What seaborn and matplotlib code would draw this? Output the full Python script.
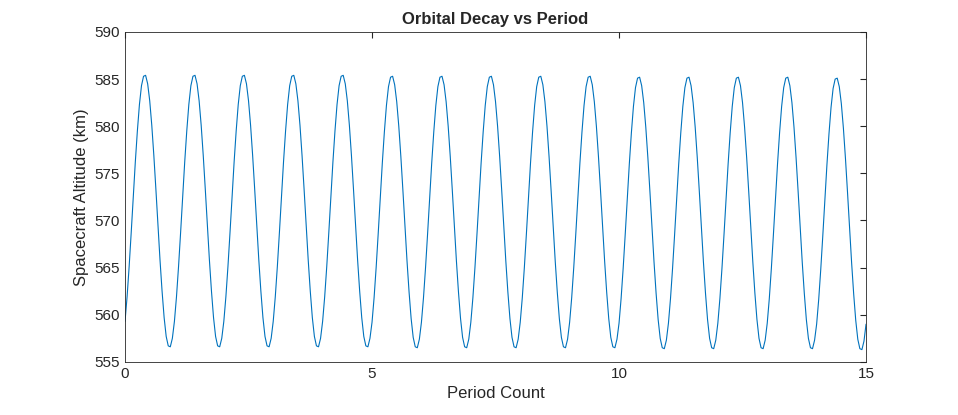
import numpy as np
import pandas as pd
import matplotlib
matplotlib.use("Agg")
import matplotlib.pyplot as plt
import seaborn as sns

# altitude every 1/24 of a period (one row per period)
altitude_rows = [
    [559.3, 561.9, 565.1, 568.7, 572.5, 576.2, 579.5, 582.3, 584.3, 585.3, 585.4, 584.5, 582.7, 580.1, 576.9, 573.3, 569.5, 565.8, 562.5, 559.7, 557.7, 556.7, 556.6, 557.5],
    [559.3, 561.9, 565.1, 568.7, 572.5, 576.2, 579.5, 582.3, 584.3, 585.3, 585.4, 584.5, 582.7, 580.1, 576.9, 573.3, 569.5, 565.8, 562.5, 559.7, 557.7, 556.7, 556.6, 557.5],
    [559.3, 561.9, 565.1, 568.7, 572.5, 576.2, 579.5, 582.3, 584.3, 585.3, 585.4, 584.5, 582.7, 580.1, 576.9, 573.3, 569.5, 565.8, 562.5, 559.7, 557.7, 556.7, 556.6, 557.5],
    [559.3, 561.9, 565.1, 568.7, 572.5, 576.2, 579.5, 582.3, 584.3, 585.3, 585.4, 584.5, 582.7, 580.1, 576.9, 573.3, 569.5, 565.8, 562.5, 559.7, 557.7, 556.7, 556.6, 557.5],
    [559.3, 561.9, 565.1, 568.7, 572.5, 576.2, 579.5, 582.3, 584.3, 585.3, 585.4, 584.5, 582.7, 580.1, 576.9, 573.3, 569.5, 565.8, 562.5, 559.7, 557.7, 556.7, 556.6, 557.5],
    [559.2, 561.8, 565.0, 568.6, 572.4, 576.1, 579.4, 582.2, 584.2, 585.2, 585.3, 584.4, 582.6, 580.0, 576.8, 573.2, 569.4, 565.7, 562.4, 559.6, 557.6, 556.6, 556.5, 557.4],
    [559.2, 561.8, 565.0, 568.6, 572.4, 576.1, 579.4, 582.2, 584.2, 585.2, 585.3, 584.4, 582.6, 580.0, 576.8, 573.2, 569.4, 565.7, 562.4, 559.6, 557.6, 556.6, 556.5, 557.4],
    [559.2, 561.8, 565.0, 568.6, 572.4, 576.1, 579.4, 582.2, 584.2, 585.2, 585.3, 584.4, 582.6, 580.0, 576.8, 573.2, 569.4, 565.7, 562.4, 559.6, 557.6, 556.6, 556.5, 557.4],
    [559.2, 561.8, 565.0, 568.6, 572.4, 576.1, 579.4, 582.2, 584.2, 585.2, 585.3, 584.4, 582.6, 580.0, 576.8, 573.2, 569.4, 565.7, 562.4, 559.6, 557.6, 556.6, 556.5, 557.4],
    [559.2, 561.8, 565.0, 568.6, 572.4, 576.1, 579.4, 582.2, 584.2, 585.2, 585.3, 584.4, 582.6, 580.0, 576.8, 573.2, 569.4, 565.7, 562.4, 559.6, 557.6, 556.6, 556.5, 557.4],
    [559.1, 561.7, 564.9, 568.5, 572.3, 576.0, 579.3, 582.1, 584.1, 585.1, 585.2, 584.3, 582.5, 579.9, 576.7, 573.1, 569.3, 565.6, 562.3, 559.5, 557.5, 556.5, 556.4, 557.3],
    [559.1, 561.7, 564.9, 568.5, 572.3, 576.0, 579.3, 582.1, 584.1, 585.1, 585.2, 584.3, 582.5, 579.9, 576.7, 573.1, 569.3, 565.6, 562.3, 559.5, 557.5, 556.5, 556.4, 557.3],
    [559.1, 561.7, 564.9, 568.5, 572.3, 576.0, 579.3, 582.1, 584.1, 585.1, 585.2, 584.3, 582.5, 579.9, 576.7, 573.1, 569.3, 565.6, 562.3, 559.5, 557.5, 556.5, 556.4, 557.3],
    [559.1, 561.7, 564.9, 568.5, 572.3, 576.0, 579.3, 582.1, 584.1, 585.1, 585.2, 584.3, 582.5, 579.9, 576.7, 573.1, 569.3, 565.6, 562.3, 559.5, 557.5, 556.5, 556.4, 557.3],
    [559.0, 561.6, 564.8, 568.4, 572.2, 575.9, 579.2, 582.0, 584.0, 585.0, 585.1, 584.2, 582.4, 579.8, 576.6, 573.0, 569.2, 565.5, 562.2, 559.4, 557.4, 556.4, 556.3, 557.2],
]
last_altitude = 559.0
samples_per_period = 24

altitude = [v for row in altitude_rows for v in row] + [last_altitude]
period = [i / samples_per_period for i in range(len(altitude))]
df = pd.DataFrame({"period": period, "altitude": altitude})

sns.set_style("white")
plt.rcParams["font.family"] = ["Liberation Sans", "DejaVu Sans"]

fig = plt.figure(figsize=(9.58, 4.15), dpi=100)
ax = fig.add_axes([0.1305, 0.128, 0.7735, 0.795])
sns.lineplot(data=df, x="period", y="altitude", color="#0072BD", linewidth=0.8, ax=ax)

ax.set_xlim(0, 15)
ax.set_ylim(555, 590)
ax.set_xticks([0, 5, 10, 15])
ax.set_yticks(range(555, 591, 5))
ax.tick_params(direction="in", length=4, labelsize=11, colors="#262626", top=True, right=True)
for s in ax.spines.values():
    s.set_color("#262626")
    s.set_linewidth(0.6)
ax.set_xlabel("Period Count", fontsize=12, color="#262626")
ax.set_ylabel("Spacecraft Altitude (km)", fontsize=12, color="#262626")
ax.set_title("Orbital Decay vs Period", fontsize=12, fontweight="bold")
fig.savefig("out.png", dpi=100)
